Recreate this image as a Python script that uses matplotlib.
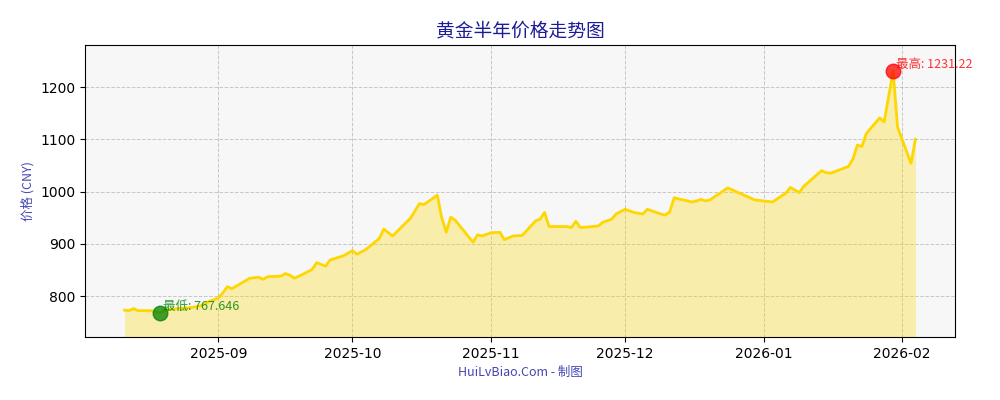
import numpy as np
import pandas as pd
import matplotlib
matplotlib.use('Agg')
import matplotlib.pyplot as plt
import matplotlib.dates as mdates

# values
dates = ['2025-08-11', '2025-08-12', '2025-08-13', '2025-08-14', '2025-08-17',
         '2025-08-19', '2025-08-20', '2025-08-23', '2025-08-26', '2025-08-28',
         '2025-08-30', '2025-09-01', '2025-09-02', '2025-09-03', '2025-09-04',
         '2025-09-06', '2025-09-08', '2025-09-10', '2025-09-11', '2025-09-12',
         '2025-09-15', '2025-09-16', '2025-09-17', '2025-09-18', '2025-09-20',
         '2025-09-22', '2025-09-23', '2025-09-25', '2025-09-26', '2025-09-29',
         '2025-10-01', '2025-10-02', '2025-10-04', '2025-10-07', '2025-10-08',
         '2025-10-10', '2025-10-14', '2025-10-16', '2025-10-17', '2025-10-20',
         '2025-10-21', '2025-10-22', '2025-10-23', '2025-10-24', '2025-10-28',
         '2025-10-29', '2025-10-30', '2025-11-01', '2025-11-03', '2025-11-04',
         '2025-11-06', '2025-11-08', '2025-11-11', '2025-11-12', '2025-11-13',
         '2025-11-14', '2025-11-18', '2025-11-19', '2025-11-20', '2025-11-21',
         '2025-11-25', '2025-11-26', '2025-11-28', '2025-11-29', '2025-12-01',
         '2025-12-03', '2025-12-05', '2025-12-06', '2025-12-09', '2025-12-10',
         '2025-12-11', '2025-12-12', '2025-12-16', '2025-12-17', '2025-12-18',
         '2025-12-19', '2025-12-20', '2025-12-24', '2025-12-30', '2026-01-03',
         '2026-01-06', '2026-01-07', '2026-01-09', '2026-01-10', '2026-01-14',
         '2026-01-15', '2026-01-16', '2026-01-20', '2026-01-21', '2026-01-22',
         '2026-01-23', '2026-01-24', '2026-01-27', '2026-01-28', '2026-01-30',
         '2026-01-31', '2026-02-03', '2026-02-04']
prices = [773, 772, 776, 772, 772,
          767.646, 773, 776, 778, 781,
          790, 796, 806, 818, 814,
          824, 834, 836, 832, 837,
          838, 843, 840, 834, 842,
          851, 864, 857, 869, 877,
          887, 880, 889, 910, 928,
          915, 949, 977, 975, 993,
          949, 922, 951, 945, 903,
          917, 915, 921, 922, 908,
          915, 916, 944, 947, 960,
          933, 933, 931, 943, 931,
          934, 941, 947, 957, 966,
          960, 957, 966, 957, 955,
          961, 988, 980, 982, 985,
          982, 984, 1007, 984, 980,
          997, 1008, 998, 1010, 1040,
          1036, 1035, 1048, 1062, 1089,
          1086, 1111, 1141, 1133, 1231.22,
          1123, 1054, 1100]

title = '黄金半年价格走势图'
ylabel = '价格 (CNY)'
xlabel = 'HuiLvBiao.Com - 制图'


def main():
    plt.rcParams['font.family'] = ['DejaVu Sans', 'Noto Sans CJK SC']
    cjk = ['Noto Sans CJK SC', 'DejaVu Sans']

    x = pd.to_datetime(pd.Series(dates))
    y = np.array(prices)

    fig, ax = plt.subplots(figsize=(10, 4), dpi=100)
    fig.subplots_adjust(left=0.085, right=0.955, top=0.8875, bottom=0.1575)
    ax.set_facecolor('#f7f7f7')

    ymin = y.min() * 0.94
    ymax = y.max() * 1.04
    ax.plot(x, y, color='#FFD700', linewidth=2, zorder=3)
    ax.fill_between(x, y, ymin, color='#FFD700', alpha=0.3, linewidth=0, zorder=2)
    ax.set_ylim(ymin, ymax)

    i_min = int(np.argmin(y)); i_max = int(np.argmax(y))
    ax.scatter(x[i_min], y[i_min], s=110, color='green', alpha=0.75, zorder=4)
    ax.scatter(x[i_max], y[i_max], s=110, color='red', alpha=0.75, zorder=4)
    ax.annotate('最低: ' + str(prices[i_min]), (x[i_min], y[i_min]),
                xytext=(2, 2), textcoords='offset points', color='green',
                alpha=0.8, fontsize=9, family=cjk, zorder=5)
    ax.annotate('最高: ' + str(prices[i_max]), (x[i_max], y[i_max]),
                xytext=(2, 2), textcoords='offset points', color='red',
                alpha=0.8, fontsize=9, family=cjk, zorder=5)

    ax.xaxis.set_major_locator(mdates.MonthLocator())
    ax.xaxis.set_major_formatter(mdates.DateFormatter('%Y-%m'))
    ax.grid(True, linestyle='--', color='gray', alpha=0.4, linewidth=0.7)

    ax.set_title(title, fontsize=13.5, color='#1c1c98', family=cjk, pad=6)
    ax.set_ylabel(ylabel, fontsize=9, color='#4545b5', family=cjk)
    ax.set_xlabel(xlabel, fontsize=9, color='#4545b5', family=cjk)

    fig.savefig('out.png', dpi=100)


if __name__ == '__main__':
    main()
